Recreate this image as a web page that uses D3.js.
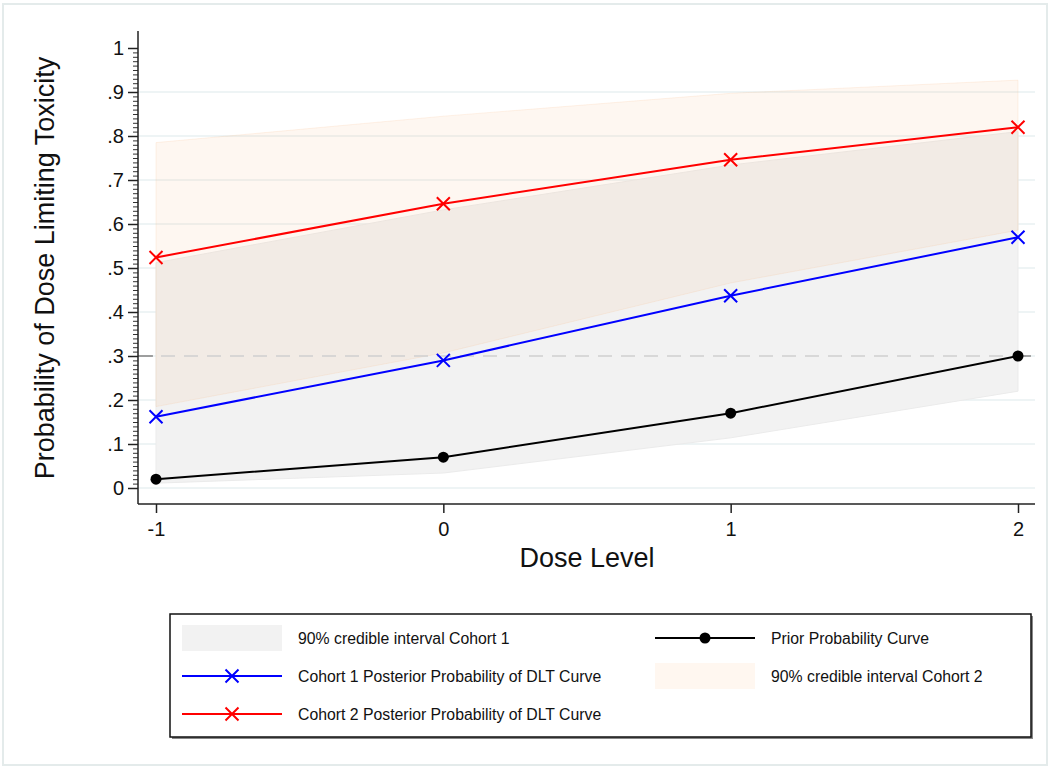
<!DOCTYPE html>
<html>
<head>
<meta charset="utf-8">
<script src="https://cdn.jsdelivr.net/npm/d3@7"></script>
<style>
  html, body { margin: 0; padding: 0; background: #fff; }
  svg { display: block; font-family: "Liberation Sans", Arial, Helvetica, sans-serif; }
</style>
</head>
<body>
<svg id="chart" width="1051" height="769"></svg>
<script>
// Dose levels on the x axis
const doseLevels = [-1, 0, 1, 2];

// Prior probability of DLT at each dose level
const priorProb = [0.02, 0.07, 0.17, 0.30];

// Cohort 1 posterior and its 90% credible interval
const cohort1Prob = [0.162, 0.290, 0.437, 0.570];
const cohort1Lower = [0.011, 0.034, 0.114, 0.220];
const cohort1Upper = [0.512, 0.632, 0.734, 0.810];

// Cohort 2 posterior and its 90% credible interval
const cohort2Prob = [0.524, 0.646, 0.746, 0.820];
const cohort2Lower = [0.185, 0.307, 0.466, 0.586];
const cohort2Upper = [0.785, 0.845, 0.897, 0.927];

// Target toxicity reference level
const targetLevel = 0.3;

// Axis ticks
const yTicks = [0, 0.1, 0.2, 0.3, 0.4, 0.5, 0.6, 0.7, 0.8, 0.9, 1];
const yMinorTicks = d3.range(0, 101).map(i => i / 100);
const xTicks = doseLevels;

const svg = d3.select("#chart");

// Outer graph frame
svg.append("rect")
  .attr("x", 3).attr("y", 4).attr("width", 1044).attr("height", 761)
  .attr("fill", "none").attr("stroke", "#e4ebeb").attr("stroke-width", 2);

const plot = { left: 138, right: 1035, top: 31, bottom: 504 };

const x = d3.scaleLinear().domain([-1, 2]).range([156, 1018]);
const y = d3.scaleLinear().domain([0, 1]).range([488, 48]);

// Horizontal gridlines
svg.append("g").selectAll("line")
  .data(yTicks.filter(v => v < 1))
  .join("line")
  .attr("x1", plot.left).attr("x2", plot.right)
  .attr("y1", d => y(d)).attr("y2", d => y(d))
  .attr("stroke", "#e8f0f2").attr("stroke-width", 1.5);

// Credible interval bands
const rows = doseLevels.map((d, i) => ({
  dose: d,
  prior: priorProb[i],
  c1: cohort1Prob[i], c1lo: cohort1Lower[i], c1hi: cohort1Upper[i],
  c2: cohort2Prob[i], c2lo: cohort2Lower[i], c2hi: cohort2Upper[i]
}));

const band1 = d3.area().x(d => x(d.dose)).y0(d => y(d.c1lo)).y1(d => y(d.c1hi));
const band2 = d3.area().x(d => x(d.dose)).y0(d => y(d.c2lo)).y1(d => y(d.c2hi));

svg.append("path").datum(rows).attr("d", band1)
  .attr("fill", "#f2f2f2").attr("stroke", "#ebebeb").attr("stroke-width", 1);

svg.append("path").datum(rows).attr("d", band2)
  .attr("fill", "rgb(250,190,140)").attr("fill-opacity", 0.12)
  .attr("stroke", "rgb(250,190,140)").attr("stroke-opacity", 0.18).attr("stroke-width", 1);

// Target toxicity reference line
svg.append("line")
  .attr("x1", plot.left).attr("x2", plot.right)
  .attr("y1", y(targetLevel)).attr("y2", y(targetLevel))
  .attr("stroke", "#cfcfcf").attr("stroke-width", 1.5)
  .attr("stroke-dasharray", "14,9");
svg.append("line")
  .attr("x1", plot.left).attr("x2", plot.left + 15)
  .attr("y1", y(targetLevel)).attr("y2", y(targetLevel))
  .attr("stroke", "#8a8a8a").attr("stroke-width", 1.5);
svg.append("line")
  .attr("x1", x(2)).attr("x2", plot.right - 4)
  .attr("y1", y(targetLevel)).attr("y2", y(targetLevel))
  .attr("stroke", "#8a8a8a").attr("stroke-width", 1.5);

// Curves
const lineGen = key => d3.line().x(d => x(d.dose)).y(d => y(d[key]));

function crossPath(cx, cy, r) {
  return `M${cx - r},${cy - r}L${cx + r},${cy + r}M${cx - r},${cy + r}L${cx + r},${cy - r}`;
}

function drawCrossSeries(key, color) {
  svg.append("path").datum(rows).attr("d", lineGen(key))
    .attr("fill", "none").attr("stroke", color).attr("stroke-width", 2);
  svg.append("g").selectAll("path").data(rows).join("path")
    .attr("d", d => crossPath(x(d.dose), y(d[key]), 6.5))
    .attr("stroke", color).attr("stroke-width", 2).attr("fill", "none");
}

svg.append("path").datum(rows).attr("d", lineGen("prior"))
  .attr("fill", "none").attr("stroke", "#000").attr("stroke-width", 2);
svg.append("g").selectAll("circle").data(rows).join("circle")
  .attr("cx", d => x(d.dose)).attr("cy", d => y(d.prior)).attr("r", 5.5)
  .attr("fill", "#000");

drawCrossSeries("c1", "#0000ff");
drawCrossSeries("c2", "#ff0000");

// Y axis: minor and major ticks
const fmtY = d => (d === 0 ? "0" : d === 1 ? "1" : d3.format(".1f")(d).replace(/^0/, ""));

const yMinor = svg.append("g").attr("transform", `translate(${plot.left},0)`)
  .call(d3.axisLeft(y).tickValues(yMinorTicks).tickSize(5).tickFormat(""));
yMinor.select(".domain").remove();
yMinor.selectAll(".tick line").attr("stroke", "#333").attr("stroke-width", 1);

const yAxis = svg.append("g").attr("transform", `translate(${plot.left},0)`)
  .call(d3.axisLeft(y).tickValues(yTicks).tickSize(10).tickPadding(4).tickFormat(fmtY));
yAxis.select(".domain").remove();
yAxis.selectAll(".tick line").attr("stroke", "#222").attr("stroke-width", 1.5);
yAxis.selectAll(".tick text").attr("font-size", 20).attr("fill", "#111")
  .attr("font-family", "'Liberation Sans', Arial, sans-serif");

svg.append("line")
  .attr("x1", plot.left).attr("x2", plot.left)
  .attr("y1", plot.top).attr("y2", plot.bottom)
  .attr("stroke", "#222").attr("stroke-width", 1.5);

// X axis
const xAxis = svg.append("g").attr("transform", `translate(0,${plot.bottom})`)
  .call(d3.axisBottom(x).tickValues(xTicks).tickSize(9).tickPadding(9).tickFormat(d => String(d)));
xAxis.select(".domain").remove();
xAxis.selectAll(".tick line").attr("stroke", "#222").attr("stroke-width", 1.5);
xAxis.selectAll(".tick text").attr("font-size", 20).attr("fill", "#111")
  .attr("font-family", "'Liberation Sans', Arial, sans-serif");

svg.append("line")
  .attr("x1", plot.left).attr("x2", plot.right)
  .attr("y1", plot.bottom).attr("y2", plot.bottom)
  .attr("stroke", "#222").attr("stroke-width", 1.5);

// Axis titles
svg.append("text")
  .attr("transform", `translate(54,${268}) rotate(-90)`)
  .attr("text-anchor", "middle")
  .attr("font-size", 27).attr("fill", "#111")
  .text("Probability of Dose Limiting Toxicity");

svg.append("text")
  .attr("x", 587).attr("y", 567)
  .attr("text-anchor", "middle")
  .attr("font-size", 27).attr("fill", "#111")
  .text("Dose Level");

// Legend
const legend = svg.append("g");
legend.append("rect")
  .attr("x", 172).attr("y", 616).attr("width", 861).attr("height", 123)
  .attr("fill", "#888");
legend.append("rect")
  .attr("x", 170).attr("y", 614).attr("width", 861).attr("height", 123)
  .attr("fill", "#fff").attr("stroke", "#111").attr("stroke-width", 1.5);

const legendItems = [
  { col: 0, row: 0, type: "band", fill: "#f2f2f2", label: "90% credible interval Cohort 1" },
  { col: 1, row: 0, type: "dot", color: "#000", label: "Prior Probability Curve" },
  { col: 0, row: 1, type: "cross", color: "#0000ff", label: "Cohort 1 Posterior Probability of DLT Curve" },
  { col: 1, row: 1, type: "band", fill: "#fff7f0", label: "90% credible interval Cohort 2" },
  { col: 0, row: 2, type: "cross", color: "#ff0000", label: "Cohort 2 Posterior Probability of DLT Curve" }
];

const keyX = [182, 655];
const rowY = [638, 676, 714];

legendItems.forEach(it => {
  const kx = keyX[it.col], ky = rowY[it.row];
  if (it.type === "band") {
    legend.append("rect").attr("x", kx).attr("y", ky - 13).attr("width", 100).attr("height", 26)
      .attr("fill", it.fill);
  } else {
    legend.append("line").attr("x1", kx).attr("x2", kx + 100).attr("y1", ky).attr("y2", ky)
      .attr("stroke", it.color).attr("stroke-width", 2);
    if (it.type === "dot") {
      legend.append("circle").attr("cx", kx + 50).attr("cy", ky).attr("r", 5.5).attr("fill", it.color);
    } else {
      legend.append("path").attr("d", crossPath(kx + 50, ky, 6.5))
        .attr("stroke", it.color).attr("stroke-width", 2).attr("fill", "none");
    }
  }
  legend.append("text")
    .attr("x", kx + 116).attr("y", ky + 5.5)
    .attr("font-size", 15.8).attr("fill", "#111")
    .text(it.label);
});
</script>
</body>
</html>
